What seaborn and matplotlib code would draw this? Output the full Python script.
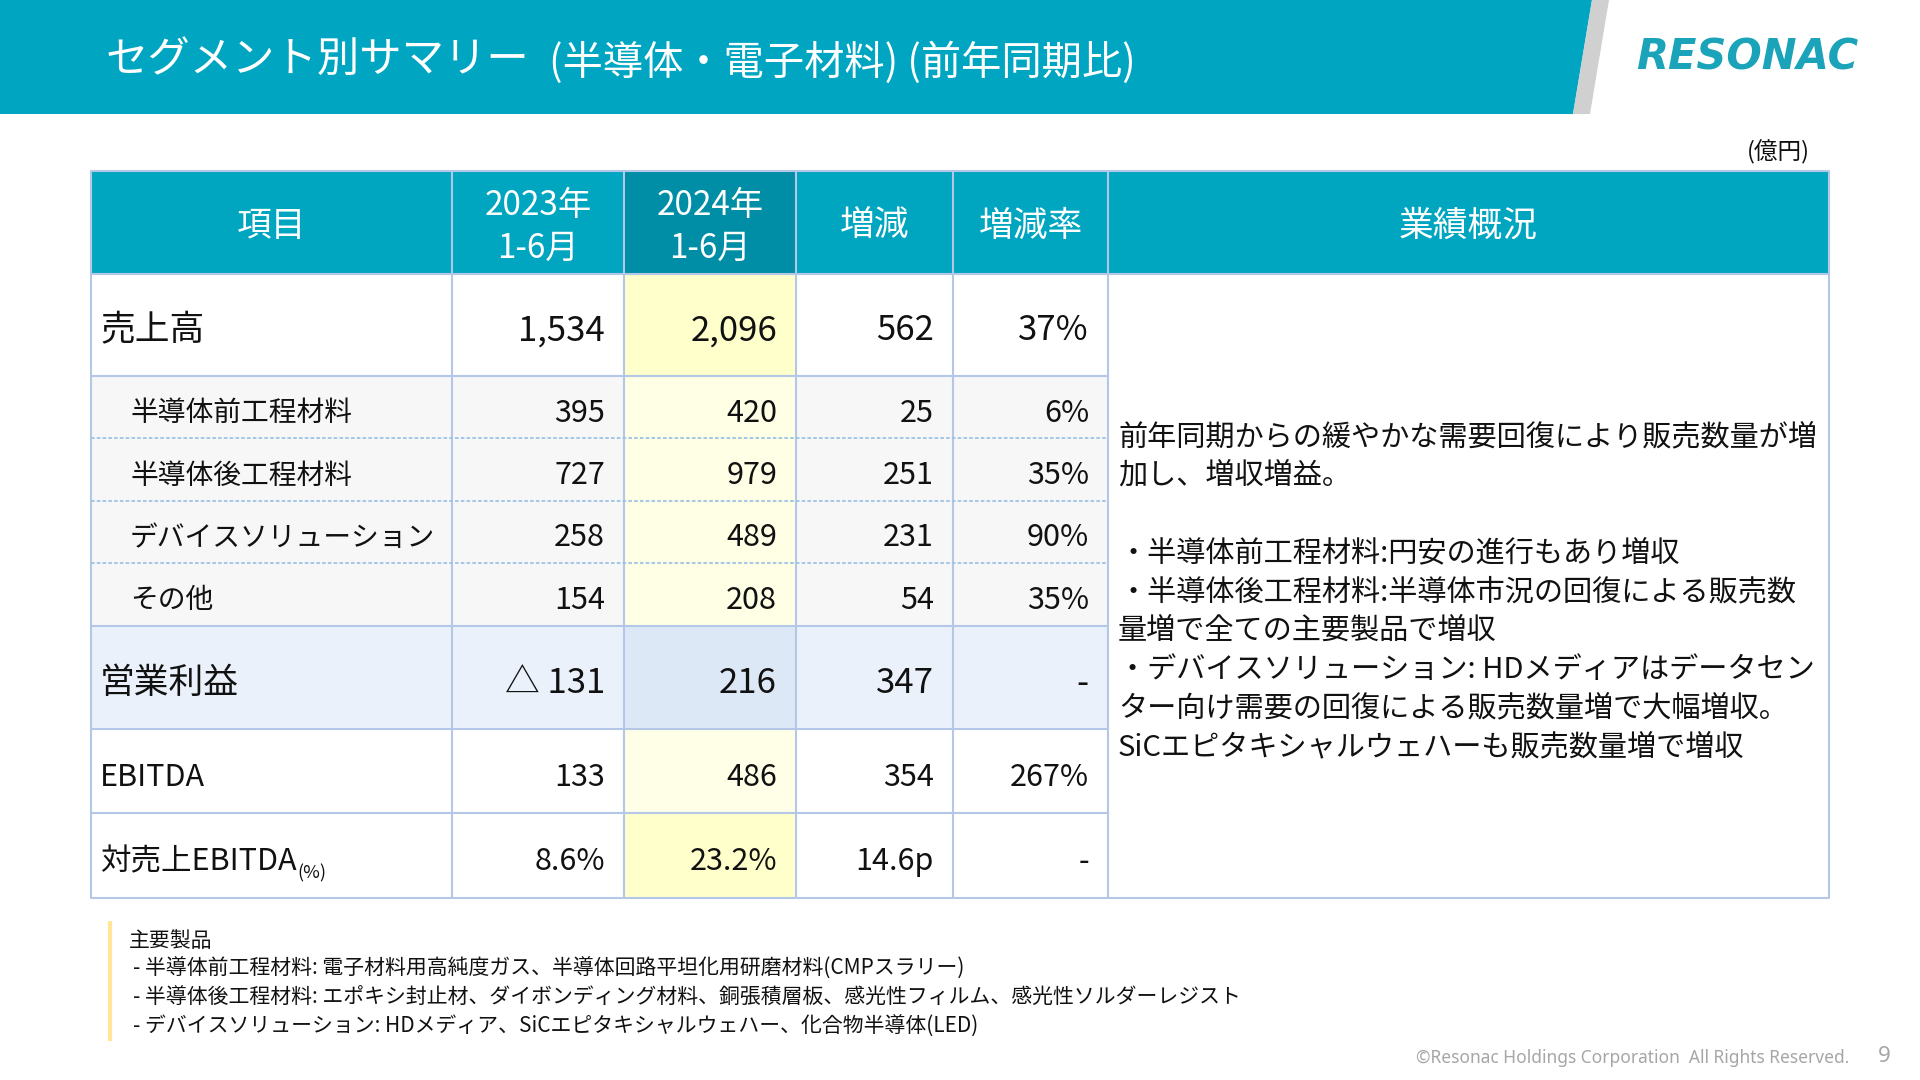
import matplotlib
matplotlib.use("Agg")
import matplotlib.pyplot as plt
from matplotlib.patches import Rectangle, Polygon
import seaborn as sns

# ---------------- data ----------------
title_main = "セグメント別サマリー"
title_sub = "(半導体・電子材料) (前年同期比)"
unit_label = "(億円)"
header_labels = ["項目", "2023年\n1-6月", "2024年\n1-6月", "増減", "増減率", "業績概況"]
items = ["売上高", "半導体前工程材料", "半導体後工程材料", "デバイスソリューション",
         "その他", "営業利益", "EBITDA", "対売上EBITDA"]
v2023 = [1534, 395, 727, 258, 154, -131, 133, 8.6]
v2024 = [2096, 420, 979, 489, 208, 216, 486, 23.2]
diff = [562, 25, 251, 231, 54, 347, 354, 14.6]
rate = [37, 6, 35, 90, 35, None, 267, None]
comment_lines = [
    "前年同期からの緩やかな需要回復により販売数量が増",
    "加し、増収増益。",
    "",
    "・半導体前工程材料:円安の進行もあり増収",
    "・半導体後工程材料:半導体市況の回復による販売数",
    "量増で全ての主要製品で増収",
    "・デバイスソリューション: HDメディアはデータセン",
    "ター向け需要の回復による販売数量増で大幅増収。",
    "SiCエピタキシャルウェハーも販売数量増で増収",
]
note_title = "主要製品"
note_lines = [
    "- 半導体前工程材料: 電子材料用高純度ガス、半導体回路平坦化用研磨材料(CMPスラリー)",
    "- 半導体後工程材料: エポキシ封止材、ダイボンディング材料、銅張積層板、感光性フィルム、感光性ソルダーレジスト",
    "- デバイスソリューション: HDメディア、SiCエピタキシャルウェハー、化合物半導体(LED)",
]
copyright_text = "©Resonac Holdings Corporation  All Rights Reserved."
page_no = "9"

# ---------------- style ----------------
sns.set_theme(style="white")
plt.rcParams["font.family"] = ["Noto Sans CJK JP", "DejaVu Sans"]

TEAL = "#00A5C0"
TEAL_DARK = "#008EA6"
GRID = "#B4C7E7"
INK = "#111111"
row_kind = ["main", "sub", "sub", "sub", "sub", "op", "ebitda", "ratio"]
bg = {"main": ("#FFFFFF", "#FFFFCC"), "sub": ("#F7F7F7", "#FFFFE6"),
      "op": ("#EAF1FA", "#DCE8F5"), "ebitda": ("#FFFFFF", "#FFFFE8"),
      "ratio": ("#FFFFFF", "#FFFFCC")}
fs_label = {"main": 25, "sub": 20, "op": 25, "ebitda": 22, "ratio": 22}
fs_num = {"main": 25, "sub": 22, "op": 25, "ebitda": 22, "ratio": 22}

col_edges = [91, 452, 624, 796, 953, 1108, 1829]
row_edges = [171, 274, 376, 438, 501, 563, 626, 729, 813, 898]
DY = 4  # vertical optical offset for centred text

fig = plt.figure(figsize=(19.2, 10.8), dpi=100)
ax = fig.add_axes([0, 0, 1, 1])
ax.set_xlim(0, 1920)
ax.set_ylim(1080, 0)
ax.axis("off")

# title bar
ax.add_patch(Polygon([(0, 0), (1592, 0), (1573, 114), (0, 114)], closed=True,
                     facecolor="#00A6C1", edgecolor="none"))
ax.add_patch(Polygon([(1592, 0), (1609, 0), (1590, 114), (1573, 114)], closed=True,
                     facecolor="#D0D0D0", edgecolor="none"))
ax.text(105, 60, title_main, fontsize=30.5, color="white", va="center", ha="left")
ax.text(549, 63, title_sub, fontsize=29, color="white", va="center", ha="left")
ax.text(1636, 57, "RESONAC", fontsize=30, color="#1AA3B9", fontweight="bold",
        fontstyle="italic", family="DejaVu Sans", va="center", ha="left")

ax.text(1810, 152, unit_label, fontsize=17, color=INK, ha="right", va="center")

# header
ax.add_patch(Rectangle((col_edges[0], row_edges[0]), col_edges[-1] - col_edges[0],
                       row_edges[1] - row_edges[0], facecolor=TEAL, edgecolor="none"))
ax.add_patch(Rectangle((col_edges[2], row_edges[0]), col_edges[3] - col_edges[2],
                       row_edges[1] - row_edges[0], facecolor=TEAL_DARK, edgecolor="none"))
hy = (row_edges[0] + row_edges[1]) / 2 + DY
for j, lab in enumerate(header_labels):
    cx = (col_edges[j] + col_edges[j + 1]) / 2
    if "\n" in lab:
        l1, l2 = lab.split("\n")
        ax.text(cx, hy - 21, l1, fontsize=24, color="white", ha="center", va="center")
        ax.text(cx, hy + 22, l2, fontsize=24, color="white", ha="center", va="center")
    else:
        ax.text(cx, hy, lab, fontsize=25, color="white", ha="center", va="center")

# body backgrounds
ax.add_patch(Rectangle((col_edges[5], row_edges[1]), col_edges[6] - col_edges[5],
                       row_edges[-1] - row_edges[1], facecolor="white", edgecolor="none"))
for i, kind in enumerate(row_kind):
    y0, y1 = row_edges[i + 1], row_edges[i + 2]
    base, hi = bg[kind]
    ax.add_patch(Rectangle((col_edges[0], y0), col_edges[5] - col_edges[0], y1 - y0,
                           facecolor=base, edgecolor="none"))
    ax.add_patch(Rectangle((col_edges[2], y0), col_edges[3] - col_edges[2], y1 - y0,
                           facecolor=hi, edgecolor="none"))


def fmt_val(v, kind):
    if v is None:
        return "-"
    if kind == "ratio":
        return f"{v:.1f}%"
    if v < 0:
        return f"△ {abs(v):,}"
    return f"{v:,}"


fig.canvas.draw()
renderer = fig.canvas.get_renderer()
for i, kind in enumerate(row_kind):
    y0, y1 = row_edges[i + 1], row_edges[i + 2]
    cy = (y0 + y1) / 2 + 2 + DY
    lx = 130 if kind == "sub" else 100
    t = ax.text(lx, cy, items[i], fontsize=fs_label[kind], color=INK,
                ha="left", va="center")
    if kind == "ratio":
        bb = t.get_window_extent(renderer=renderer)
        ax.text(bb.x1 + 1, cy + 12, "(%)", fontsize=13, color=INK,
                ha="left", va="center")
    vals = [fmt_val(v2023[i], kind), fmt_val(v2024[i], kind),
            (f"{diff[i]:.1f}p" if kind == "ratio" else fmt_val(diff[i], kind)),
            ("-" if rate[i] is None else f"{rate[i]}%")]
    for j, s in enumerate(vals):
        ax.text(col_edges[j + 2] - 19, cy, s, fontsize=fs_num[kind], color=INK,
                ha="right", va="center")

# grid lines
for x in col_edges:
    ax.plot([x, x], [row_edges[0], row_edges[-1]], color=GRID, lw=1.5,
            solid_capstyle="butt")
for y in row_edges:
    if y in (438, 501, 563):
        ax.plot([col_edges[0], col_edges[5]], [y, y], color="#9DC3E6", lw=1.3,
                ls=(0, (2, 1.2)))
    elif y in (171, 274, 898):
        ax.plot([col_edges[0], col_edges[-1]], [y, y], color=GRID, lw=1.5)
    else:
        ax.plot([col_edges[0], col_edges[5]], [y, y], color=GRID, lw=1.5)

# commentary
for k, line in enumerate(comment_lines):
    if line:
        ax.text(1118, 433 + DY + k * 38.8, line, fontsize=21, color=INK,
                ha="left", va="center")

# footnote
ax.plot([110, 110], [921, 1041], color="#FFE699", lw=3, solid_capstyle="butt")
ax.text(129, 941, note_title, fontsize=15, color=INK, ha="left", va="center")
for k, line in enumerate(note_lines):
    ax.text(133, 969 + k * 29, line, fontsize=15, color=INK, ha="left",
            va="center")

ax.text(1849, 1058, copyright_text, fontsize=12.5, color="#A6A6A6", ha="right",
        va="center", family=["Noto Sans", "DejaVu Sans"])
ax.text(1884, 1057, page_no, fontsize=16, color="#A6A6A6", ha="center", va="center",
        family=["Noto Sans", "DejaVu Sans"])

fig.savefig("out.png", dpi=100)
